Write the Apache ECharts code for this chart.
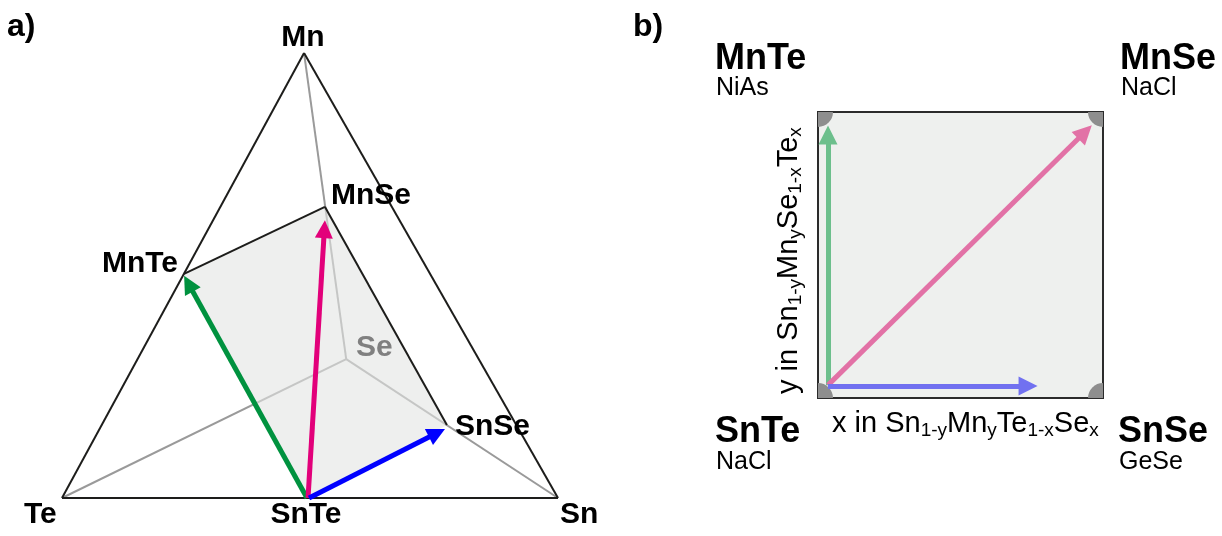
<!DOCTYPE html>
<html>
<head>
<meta charset="utf-8">
<script src="https://cdn.jsdelivr.net/npm/echarts@6/dist/echarts.min.js"></script>
<style>
html, body { margin: 0; padding: 0; background: #fff; }
#chart { width: 1222px; height: 536px; }
</style>
</head>
<body>
<div id="chart"></div>
<script>
// ---- panel a: projected tetrahedron, Te-Sn edge = 1 unit ----
const cornerNames = ['Te', 'Sn', 'Mn', 'Se']
const cornerX = [0, 1, 0.488, 0.573]
const cornerY = [0, 0, 0.897, 0.280]

// binary compounds (the shaded plane), in polygon order
const compoundNames = ['SnTe', 'MnTe', 'MnSe', 'SnSe']
const compoundX = [0.496, 0.246, 0.530, 0.776]
const compoundY = [0, 0.452, 0.587, 0.147]

// arrows of panel a: start and arrow-head centre
const arrowAStartX = [0.494, 0.496, 0.498]
const arrowAStartY = [0, 0, 0]
const arrowAEndX = [0.255, 0.529, 0.756]
const arrowAEndY = [0.432, 0.542, 0.131]
const arrowAColors = ['#00923f', '#e2007a', '#0000ff']

// ---- panel b: composition square, x and y from 0 to 1 ----
const squareCornersX = [0, 1, 0, 1]
const squareCornersY = [0, 0, 1, 1]
const arrowBStartX = [0.035, 0.035, 0.035]
const arrowBStartY = [0.045, 0.045, 0.042]
const arrowBEndX = [0.035, 0.937, 0.737]
const arrowBEndY = [0.92, 0.93, 0.042]
const arrowBColors = ['#6cbf8c', '#e272a6', '#7171f0']
const squareLabels = ['MnTe', 'MnSe', 'SnTe', 'SnSe']
const structureLabels = ['NiAs', 'NaCl', 'NaCl', 'GeSe']

const chart = echarts.init(document.getElementById('chart'))

function seg(i, j) {
  return { coords: [[cornerX[i], cornerY[i]], [cornerX[j], cornerY[j]]] }
}
function cseg(i, j) {
  return { coords: [[compoundX[i], compoundY[i]], [compoundX[j], compoundY[j]]] }
}

const bold = 'bold 30px "Liberation Sans", Arial, sans-serif'
const boldTag = 'bold 32px "Liberation Sans", Arial, sans-serif'
const boldB = 'bold 36px "Liberation Sans", Arial, sans-serif'
const thin = '25px "Liberation Sans", Arial, sans-serif'

function txt(s, x, y, font, align, color) {
  return {
    type: 'text', x: x, y: y, z: 100, silent: true,
    style: { text: s, font: font, fill: color || '#000', align: align || 'left', verticalAlign: 'middle' }
  }
}

const rich = {
  m: { fontSize: 29, lineHeight: 32, fontFamily: '"Liberation Sans", Arial, sans-serif', fill: '#000' },
  s: { fontSize: 19, lineHeight: 19, verticalAlign: 'bottom', fontFamily: '"Liberation Sans", Arial, sans-serif', fill: '#000' }
}

const option = {
  animation: false,
  grid: [
    { left: 62, top: 2, width: 496, height: 496 },
    { left: 818, top: 112, width: 285, height: 286, show: true, backgroundColor: '#eef0ee', borderColor: '#2b2b2b', borderWidth: 2 }
  ],
  xAxis: [
    { type: 'value', gridIndex: 0, min: 0, max: 1, show: false },
    { type: 'value', gridIndex: 1, min: 0, max: 1, show: false }
  ],
  yAxis: [
    { type: 'value', gridIndex: 0, min: 0, max: 1, show: false },
    { type: 'value', gridIndex: 1, min: 0, max: 1, show: false }
  ],
  series: [
    // hidden edges towards Se
    {
      type: 'lines', coordinateSystem: 'cartesian2d', xAxisIndex: 0, yAxisIndex: 0,
      lineStyle: { color: '#9a9a9a', width: 2, opacity: 1 },
      data: [seg(3, 0), seg(3, 1), seg(3, 2)]
    },
    // shaded plane SnTe-MnTe-MnSe-SnSe
    {
      type: 'custom', xAxisIndex: 0, yAxisIndex: 0, silent: true,
      data: [compoundX.flatMap((x, i) => [x, compoundY[i]])],
      renderItem: function (params, api) {
        const pts = []
        for (let i = 0; i < compoundNames.length; i++) {
          pts.push(api.coord([api.value(2 * i), api.value(2 * i + 1)]))
        }
        return { type: 'polygon', shape: { points: pts }, style: { fill: '#e2e5e3', opacity: 0.6 } }
      }
    },
    // outer triangle and plane edges
    {
      type: 'lines', coordinateSystem: 'cartesian2d', xAxisIndex: 0, yAxisIndex: 0,
      lineStyle: { color: '#1d1d1b', width: 2, opacity: 1 },
      data: [seg(0, 1), seg(1, 2), seg(2, 0), cseg(1, 2), cseg(2, 3)]
    },
    // arrows a
    {
      type: 'lines', coordinateSystem: 'cartesian2d', xAxisIndex: 0, yAxisIndex: 0,
      symbol: ['none', 'triangle'], symbolSize: 18,
      lineStyle: { width: 5, opacity: 1 },
      data: arrowAColors.map((c, i) => ({
        coords: [[arrowAStartX[i], arrowAStartY[i]], [arrowAEndX[i], arrowAEndY[i]]],
        lineStyle: { color: c }
      }))
    },
    // panel b corner markers (quarter discs, clipped by the square)
    {
      type: 'custom', xAxisIndex: 1, yAxisIndex: 1, clip: true, silent: true,
      data: squareCornersX.map((x, i) => [x, squareCornersY[i]]),
      renderItem: function (params, api) {
        const p = api.coord([api.value(0), api.value(1)])
        return { type: 'circle', shape: { cx: p[0], cy: p[1], r: 15 }, style: { fill: '#8e8e8e' } }
      }
    },
    // arrows b
    {
      type: 'lines', coordinateSystem: 'cartesian2d', xAxisIndex: 1, yAxisIndex: 1,
      symbol: ['none', 'triangle'], symbolSize: 19,
      lineStyle: { width: 5, opacity: 1 },
      data: arrowBColors.map((c, i) => ({
        coords: [[arrowBStartX[i], arrowBStartY[i]], [arrowBEndX[i], arrowBEndY[i]]],
        lineStyle: { color: c }
      }))
    }
  ],
  graphic: [
    txt('a)', 7, 27, boldTag),
    txt(cornerNames[2], 303, 38, bold, 'center'),
    txt(compoundNames[2], 331, 196, bold),
    txt(compoundNames[1], 178, 264, bold, 'right'),
    txt(cornerNames[3], 356, 348, bold, 'left', '#808080'),
    txt(compoundNames[3], 455, 427, bold),
    txt(cornerNames[0], 24, 515, bold),
    txt(compoundNames[0], 306, 515, bold, 'center'),
    txt(cornerNames[1], 560, 515, bold),

    txt('b)', 633, 27, boldTag),
    txt(squareLabels[0], 715, 59, boldB),
    txt(structureLabels[0], 716, 88, thin),
    txt(squareLabels[1], 1120, 59, boldB),
    txt(structureLabels[1], 1121, 88, thin),
    txt(squareLabels[2], 715, 432, boldB),
    txt(structureLabels[2], 716, 462, thin),
    txt(squareLabels[3], 1118, 432, boldB),
    txt(structureLabels[3], 1119, 462, thin),
    {
      type: 'text', x: 832, y: 424, z: 100, silent: true,
      style: {
        text: '{m|x in Sn}{s|1-y}{m|Mn}{s|y}{m|Te}{s|1-x}{m|Se}{s|x}',
        rich: rich, align: 'left', verticalAlign: 'middle'
      }
    },
    {
      type: 'text', x: 789, y: 394, z: 100, rotation: Math.PI / 2, silent: true,
      style: {
        text: '{m|y in Sn}{s|1-y}{m|Mn}{s|y}{m|Se}{s|1-x}{m|Te}{s|x}',
        rich: rich, align: 'left', verticalAlign: 'middle'
      }
    }
  ]
}

chart.setOption(option)
</script>
</body>
</html>
